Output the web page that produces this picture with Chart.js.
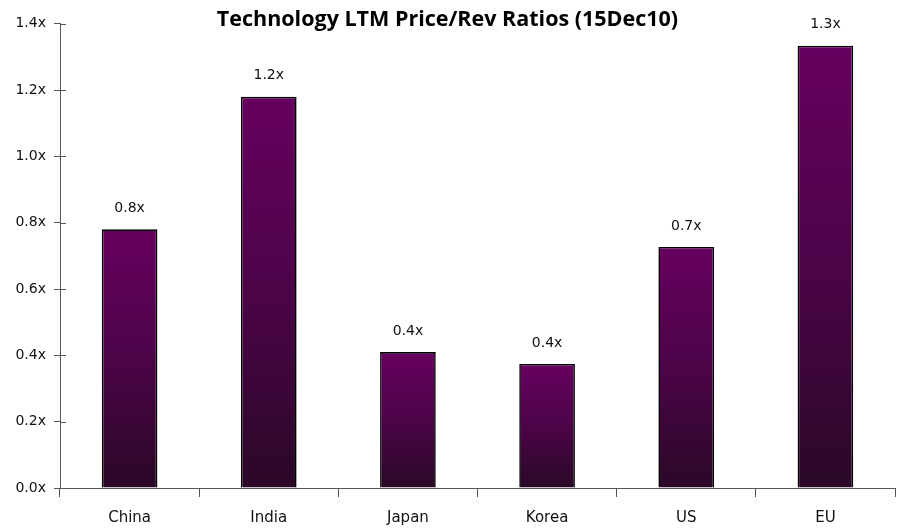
<!DOCTYPE html>
<html><head><meta charset="utf-8">
<script src="https://cdn.jsdelivr.net/npm/chart.js@4"></script>
<style>html,body{margin:0;padding:0;background:#fff}#wrap{width:899px;height:529px}</style>
</head><body><div id="wrap"><canvas id="c"></canvas></div>
<script>
const categories = ["China", "India", "Japan", "Korea", "US", "EU"];
const ratios = [0.78, 1.18, 0.41, 0.374, 0.727, 1.334];
const ratioLabels = ["0.8x", "1.2x", "0.4x", "0.4x", "0.7x", "1.3x"];
const yTicks = [0, 0.2, 0.4, 0.6, 0.8, 1.0, 1.2, 1.4];
const titleText = "Technology LTM Price/Rev Ratios (15Dec10)";

const FONT = "'DejaVu Sans', Verdana, sans-serif";
const TITLE_FONT = "'Open Sans', sans-serif";
const AXIS = "#555";

function barFill(ctx) {
  const chart = ctx.chart;
  const y = chart.scales.y;
  if (!y || ctx.raw == null) return "#650060";
  const top = y.getPixelForValue(ctx.raw);
  const bot = y.getPixelForValue(0);
  if (!isFinite(top) || !isFinite(bot) || top === bot) return "#650060";
  const g = chart.ctx.createLinearGradient(0, top, 0, bot);
  g.addColorStop(0, "#67005f");
  g.addColorStop(0.5, "#4c0448");
  g.addColorStop(1, "#2a0827");
  return g;
}

const extras = {
  id: "extras",
  afterDatasetsDraw(chart) {
    const c = chart.ctx;
    const y = chart.scales.y;
    const x = chart.scales.x;
    c.save();
    c.strokeStyle = AXIS; c.lineWidth = 1;
    yTicks.forEach(v => {
      const py = Math.round(y.getPixelForValue(v)) + 0.5;
      c.beginPath(); c.moveTo(x.left, py); c.lineTo(x.left + 6, py); c.stroke();
    });
    c.fillStyle = "#111";
    c.font = "14px " + FONT;
    c.textAlign = "center"; c.textBaseline = "middle";
    const meta = chart.getDatasetMeta(0);
    meta.data.forEach((bar, i) => {
      c.fillText(ratioLabels[i], bar.x, bar.y - 21);
    });
    c.restore();
  }
};

new Chart(document.getElementById("c"), {
  type: "bar",
  data: {
    labels: categories,
    datasets: [{
      data: ratios,
      backgroundColor: barFill,
      borderColor: "#000",
      borderWidth: 1.6,
      barPercentage: 0.8,
      categoryPercentage: 0.5
    }]
  },
  options: {
    responsive: true,
    maintainAspectRatio: false,
    animation: false,
    layout: { padding: { top: 0, right: 4, left: 0, bottom: 0 } },
    plugins: {
      legend: { display: false },
      tooltip: { enabled: false },
      title: {
        display: true,
        text: titleText,
        color: "#000",
        font: { family: TITLE_FONT, size: 21.5, weight: "bold" },
        padding: { top: 7, bottom: -9 }
      }
    },
    scales: {
      x: {
        grid: { offset: true, drawOnChartArea: false, tickLength: 9, color: AXIS },
        border: { color: AXIS, width: 1 },
        ticks: { color: "#111", font: { family: FONT, size: 15 }, padding: 12 },
        afterFit(s) { s.height = 41; }
      },
      y: {
        min: 0, max: 1.4,
        afterBuildTicks(s) { s.ticks = yTicks.map(v => ({ value: v })); },
        grid: { drawOnChartArea: false, tickLength: 6, color: AXIS },
        border: { color: AXIS, width: 1 },
        ticks: {
          color: "#111", font: { family: FONT, size: 14 }, padding: 8,
          callback: v => v.toFixed(1) + "x"
        },
        afterFit(s) { s.width = 60; }
      }
    }
  },
  plugins: [extras]
});
</script></body></html>
